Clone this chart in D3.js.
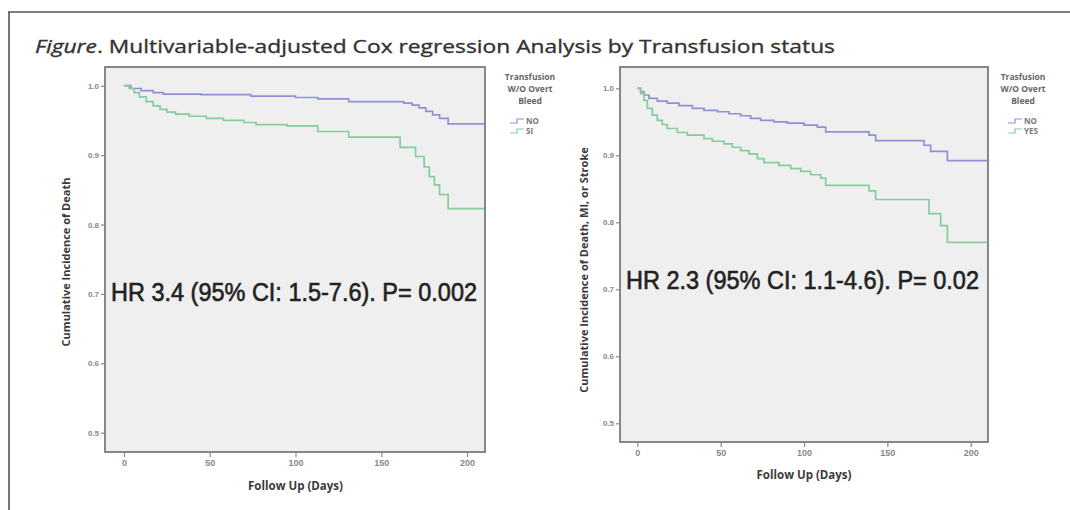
<!DOCTYPE html>
<html>
<head>
<meta charset="utf-8">
<script src="https://cdn.jsdelivr.net/npm/d3@7"></script>
<style>
  html, body { margin: 0; padding: 0; background: #fff; }
  svg { display: block; }
</style>
</head>
<body>
<svg id="fig" width="1070" height="510"></svg>
<script>
// ---- Data: Kaplan-Meier style step curves (day, proportion) ----
const xTicks = [0, 50, 100, 150, 200];
const yTicks = [0.5, 0.6, 0.7, 0.8, 0.9, 1.0];

// Left panel: death
const deathNoDays  = [0, 4, 10, 17, 23, 45, 74, 100, 113, 131, 163, 168, 172, 176, 180, 184, 189, 210];
const deathNoVals  = [1.0, 0.996, 0.993, 0.990, 0.988, 0.987, 0.985, 0.983, 0.981, 0.977, 0.975, 0.972, 0.968, 0.963, 0.958, 0.953, 0.945, 0.945];
const deathSiDays  = [0, 3, 6, 9, 13, 17, 21, 25, 30, 38, 48, 58, 70, 77, 95, 113, 131, 161, 170, 175, 178, 181, 184, 189, 210];
const deathSiVals  = [1.0, 0.996, 0.990, 0.984, 0.977, 0.971, 0.966, 0.962, 0.959, 0.956, 0.953, 0.950, 0.947, 0.944, 0.942, 0.934, 0.926, 0.911, 0.898, 0.883, 0.869, 0.857, 0.843, 0.823, 0.823];

// Right panel: death, MI or stroke
const maceNoDays   = [0, 2, 4, 7, 12, 18, 25, 33, 40, 48, 55, 62, 68, 74, 82, 90, 100, 108, 113, 139, 143, 172, 176, 186, 210];
const maceNoVals   = [1.0, 0.995, 0.990, 0.985, 0.981, 0.978, 0.974, 0.970, 0.967, 0.965, 0.962, 0.959, 0.955, 0.952, 0.950, 0.948, 0.945, 0.942, 0.935, 0.930, 0.922, 0.915, 0.906, 0.892, 0.892];
const maceYesDays  = [0, 2, 4, 6, 9, 12, 15, 18, 24, 30, 40, 45, 52, 57, 62, 67, 72, 76, 85, 92, 98, 104, 110, 113, 139, 143, 175, 182, 186, 210];
const maceYesVals  = [1.0, 0.992, 0.982, 0.970, 0.960, 0.952, 0.946, 0.940, 0.934, 0.930, 0.925, 0.921, 0.917, 0.912, 0.907, 0.902, 0.895, 0.889, 0.885, 0.880, 0.876, 0.871, 0.866, 0.855, 0.847, 0.834, 0.813, 0.795, 0.770, 0.770];

const colNo = "#8e92d4";
const colTx = "#86cc9c";

const panels = [
  {
    box: { x0: 105, x1: 485, y0: 67, y1: 452 },
    xr: [124, 467], yr: [432.7, 85.7],
    yTitle: "Cumulative Incidence of Death", yTitleX: 66, yTitleY: 262,
    xTitleY: 490,
    hr: "HR 3.4 (95% CI: 1.5-7.6). P= 0.002", hrX: 111, hrY: 301, hrW: 366,
    legend: { cx: 530, title: ["Transfusion", "W/O Overt", "Bleed"], labels: ["NO", "SI"], symX: 510 },
    series: [
      { days: deathNoDays, vals: deathNoVals, color: colNo },
      { days: deathSiDays, vals: deathSiVals, color: colTx }
    ]
  },
  {
    box: { x0: 620, x1: 988, y0: 67, y1: 442 },
    xr: [637.3, 970.7], yr: [423.3, 88.3],
    yTitle: "Cumulative Incidence of Death, MI, or Stroke", yTitleX: 584, yTitleY: 270,
    xTitleY: 479,
    hr: "HR 2.3 (95% CI: 1.1-4.6). P= 0.02", hrX: 626, hrY: 289, hrW: 353,
    legend: { cx: 1023, title: ["Trasfusion", "W/O Overt", "Bleed"], labels: ["NO", "YES"], symX: 1008 },
    series: [
      { days: maceNoDays, vals: maceNoVals, color: colNo },
      { days: maceYesDays, vals: maceYesVals, color: colTx }
    ]
  }
];

const svg = d3.select("#fig");

// Outer frame (top and left rules)
svg.append("line").attr("x1", 8).attr("x2", 1070).attr("y1", 12).attr("y2", 12)
  .attr("stroke", "#555").attr("stroke-width", 1.6);
svg.append("line").attr("x1", 9).attr("x2", 9).attr("y1", 12).attr("y2", 510)
  .attr("stroke", "#555").attr("stroke-width", 1.6);

// Title
const title = svg.append("text")
  .attr("x", 35).attr("y", 53)
  .attr("font-family", "'Open Sans', 'Liberation Sans', sans-serif")
  .attr("font-size", 19).attr("fill", "#333")
  .attr("stroke", "#333").attr("stroke-width", 0.35)
  .attr("textLength", 800).attr("lengthAdjust", "spacingAndGlyphs");
title.append("tspan").attr("font-style", "italic").text("Figure");
title.append("tspan").text(". Multivariable-adjusted Cox regression Analysis by Transfusion status");

panels.forEach(p => {
  const g = svg.append("g");
  const x = d3.scaleLinear().domain([0, 200]).range(p.xr);
  const y = d3.scaleLinear().domain([0.5, 1.0]).range(p.yr);
  const b = p.box;

  // Plot background and border
  g.append("rect")
    .attr("x", b.x0).attr("y", b.y0)
    .attr("width", b.x1 - b.x0).attr("height", b.y1 - b.y0)
    .attr("fill", "#efefef").attr("stroke", "#7c7c7c").attr("stroke-width", 1.8);

  // Y axis
  const yAxis = d3.axisLeft(y).tickValues(yTicks).tickFormat(d3.format(".1f"))
    .tickSize(4).tickPadding(2);
  const ya = g.append("g").attr("transform", `translate(${b.x0},0)`).call(yAxis);
  ya.select(".domain").remove();
  ya.selectAll("line").attr("stroke", "#888").attr("stroke-width", 1.2);
  ya.selectAll("text").attr("font-family", "'Liberation Sans', sans-serif")
    .attr("font-size", 8).attr("font-weight", "bold").attr("fill", "#888");

  // X axis
  const xAxis = d3.axisBottom(x).tickValues(xTicks).tickSize(5).tickPadding(3);
  const xa = g.append("g").attr("transform", `translate(0,${b.y1})`).call(xAxis);
  xa.select(".domain").remove();
  xa.selectAll("line").attr("stroke", "#888").attr("stroke-width", 1.2);
  xa.selectAll("text").attr("font-family", "'Liberation Sans', sans-serif")
    .attr("font-size", 9).attr("font-weight", "bold").attr("fill", "#888");

  // Axis titles
  g.append("text")
    .attr("x", (p.xr[0] + p.xr[1]) / 2).attr("y", p.xTitleY)
    .attr("text-anchor", "middle")
    .attr("font-family", "'Open Sans', sans-serif").attr("font-weight", "bold")
    .attr("font-size", 11.5).attr("fill", "#3a3a3a")
    .text("Follow Up (Days)");
  g.append("text")
    .attr("transform", `translate(${p.yTitleX},${p.yTitleY}) rotate(-90)`)
    .attr("text-anchor", "middle").attr("dy", "0.35em")
    .attr("font-family", "'Open Sans', sans-serif").attr("font-weight", "bold")
    .attr("font-size", 11).attr("fill", "#3a3a3a")
    .text(p.yTitle);

  // Step curves
  const line = d3.line()
    .x(d => x(d[0])).y(d => y(d[1]))
    .curve(d3.curveStepAfter);
  p.series.forEach(s => {
    const pts = s.days.map((d, i) => [d, s.vals[i]]);
    g.append("path").datum(pts)
      .attr("d", line)
      .attr("fill", "none").attr("stroke", s.color).attr("stroke-width", 1.7);
  });

  // Hazard ratio annotation
  g.append("text")
    .attr("x", p.hrX).attr("y", p.hrY)
    .attr("font-family", "'Liberation Sans', Arial, sans-serif")
    .attr("font-size", 25).attr("fill", "#222")
    .attr("stroke", "#222").attr("stroke-width", 0.6)
    .attr("textLength", p.hrW).attr("lengthAdjust", "spacingAndGlyphs")
    .text(p.hr);

  // Legend
  const lg = g.append("g");
  p.legend.title.forEach((t, i) => {
    lg.append("text")
      .attr("x", p.legend.cx).attr("y", 80 + i * 12)
      .attr("text-anchor", "middle")
      .attr("font-family", "'Open Sans', sans-serif").attr("font-weight", "bold")
      .attr("font-size", 8.5).attr("fill", "#666")
      .text(t);
  });
  p.legend.labels.forEach((t, i) => {
    const yy = 121 + i * 10;
    const sx = p.legend.symX;
    lg.append("path")
      .attr("d", `M${sx},${yy + 2}H${sx + 7}V${yy - 2}H${sx + 14}`)
      .attr("fill", "none").attr("stroke", p.series[i].color).attr("stroke-width", 1.2);
    lg.append("text")
      .attr("x", sx + 16).attr("y", yy + 3)
      .attr("font-family", "'Open Sans', sans-serif").attr("font-weight", "bold")
      .attr("font-size", 8).attr("fill", "#777")
      .text(t);
  });
});
</script>
</body>
</html>
